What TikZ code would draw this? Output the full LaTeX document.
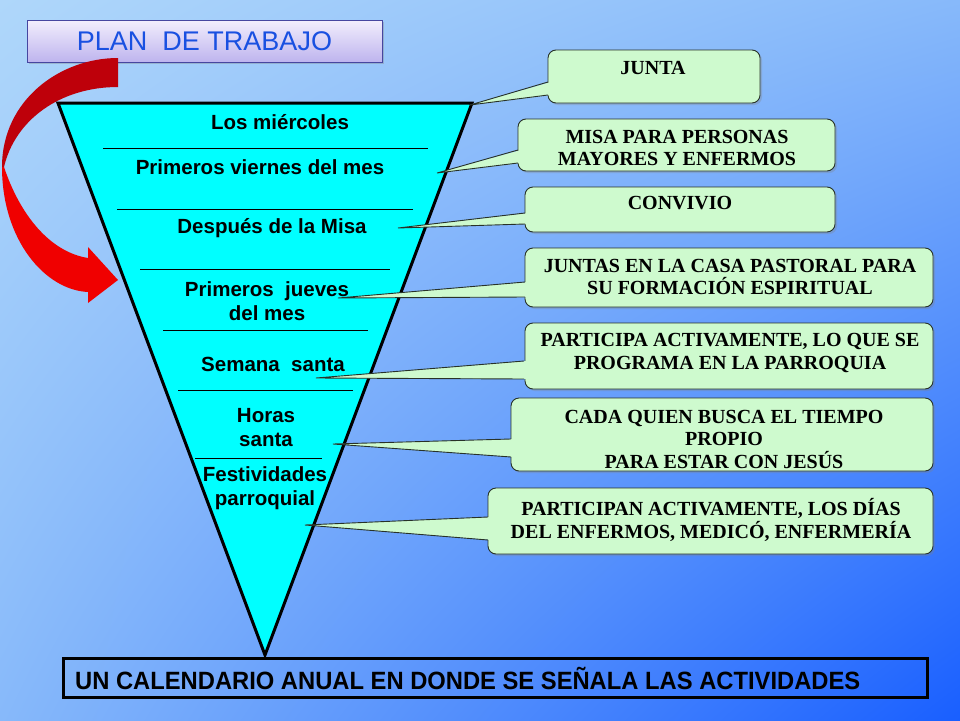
\documentclass[tikz,border=0pt]{standalone}
\usepackage{fontspec}
\setmainfont{Liberation Sans}
\newfontfamily\calloutfont{Liberation Serif}
\usetikzlibrary{shadows,calc,shadings}
\definecolor{bgUL}{RGB}{175,215,250}
\definecolor{bgUR}{RGB}{135,185,250}
\definecolor{bgLL}{RGB}{135,185,250}
\definecolor{bgLR}{RGB}{25,95,255}
\definecolor{titletop}{RGB}{242,238,253}
\definecolor{titlebot}{RGB}{190,180,238}
\definecolor{titleborder}{RGB}{70,70,160}
\definecolor{titletext}{RGB}{25,80,225}
\definecolor{trifill}{RGB}{0,255,255}
\definecolor{callfill}{RGB}{206,250,206}
\definecolor{callborder}{RGB}{40,50,40}
\definecolor{arrowdark}{RGB}{190,0,10}
\definecolor{arrowbright}{RGB}{240,0,0}
\begin{document}
\begin{tikzpicture}[x=1pt,y=-1pt,
  titlebox/.style={draw=titleborder, line width=0.8pt, top color=titletop, bottom color=titlebot,
    minimum width=355pt, minimum height=42pt, inner sep=0pt,
    drop shadow={shadow xshift=2pt, shadow yshift=-2pt, opacity=0.35}},
  tri/.style={draw=black, line width=3pt, fill=trifill, line join=miter},
  sepline/.style={draw=black, line width=0.9pt},
  tritext/.style={font=\bfseries\fontsize{20.5}{24}\selectfont, text=black, inner sep=0pt, align=center},
  callbox/.style={draw=callborder, line width=0.9pt, fill=callfill, rounded corners=8pt, inner sep=0pt,
    drop shadow={shadow xshift=2pt, shadow yshift=-2pt, opacity=0.3}},
  callwedge/.style={fill=callfill},
  wedgeline/.style={draw=callborder, line width=0.9pt},
  calltext/.style={font=\calloutfont\bfseries\fontsize{20}{22.5}\selectfont, text=black, inner sep=0pt, align=center},
  calbox/.style={draw=black, line width=3pt, inner sep=0pt, minimum width=864pt, minimum height=39pt},
  caltext/.style={font=\bfseries\fontsize{25}{28}\selectfont, text=black, inner sep=0pt, anchor=west}
]
% background
\shade[upper left=bgUL, upper right=bgUR, lower left=bgLL, lower right=bgLR] (0,0) rectangle (960,720);
\useasboundingbox (0,0) rectangle (960,720);

% title
\node[titlebox] (title) at (204.5,41) {\fontsize{27}{30}\selectfont\color{titletext}PLAN\ \ DE TRABAJO};

% red curved arrow
\fill[arrowdark] (118,58) .. controls (60,58) and (2,100) .. (2,167) -- (4,167)
  .. controls (15,120) and (60,87) .. (118,87) -- cycle;
\fill[arrowbright] (2,167) .. controls (2,240) and (45,290) .. (88,292) -- (88,303) -- (118,280)
  -- (88,247) -- (88,258) .. controls (50,252) and (20,215) .. (4,167) -- cycle;

% triangle
\coordinate (tl) at (58,103);
\coordinate (tr) at (472,103);
\coordinate (tb) at (265,655);
\draw[tri] (tl) -- (tr) -- (tb) -- cycle;

% separators
\coordinate (s1a) at (103,148); \coordinate (s1b) at (428,148);
\coordinate (s2a) at (117,209); \coordinate (s2b) at (413,209);
\coordinate (s3a) at (140,269); \coordinate (s3b) at (390,269);
\coordinate (s4a) at (163,330); \coordinate (s4b) at (368,330);
\coordinate (s5a) at (178,390); \coordinate (s5b) at (353,390);
\coordinate (s6a) at (195,458); \coordinate (s6b) at (322,458);
\draw[sepline] (s1a) -- (s1b);
\draw[sepline] (s2a) -- (s2b);
\draw[sepline] (s3a) -- (s3b);
\draw[sepline] (s4a) -- (s4b);
\draw[sepline] (s5a) -- (s5b);
\draw[sepline] (s6a) -- (s6b);

% triangle texts
\node[tritext] (l1) at (280,122) {Los miércoles};
\node[tritext] (l2) at (260,167) {Primeros viernes del mes};
\node[tritext] (l3) at (272,228) {Después de la Misa};
\node[tritext] (l4) at (267,301) {Primeros\ \ jueves\\del mes};
\node[tritext] (l5) at (273,364) {Semana\ \ santa};
\node[tritext] (l6) at (266,428) {Horas\\santa};
\node[tritext] (l7) at (265,488) {Festividades\\parroquial};

% callout boxes
\node[callbox, minimum width=212pt, minimum height=53pt] (c1) at (654,76.5) {};
\node[callbox, minimum width=317pt, minimum height=52pt] (c2) at (676.5,145) {};
\node[callbox, minimum width=310pt, minimum height=45pt] (c3) at (680,209.5) {};
\node[callbox, minimum width=408pt, minimum height=59pt] (c4) at (729,277.5) {};
\node[callbox, minimum width=408pt, minimum height=66pt] (c5) at (729,356) {};
\node[callbox, minimum width=422pt, minimum height=73pt] (c6) at (722,434.5) {};
\node[callbox, minimum width=445pt, minimum height=66pt] (c7) at (710.5,521) {};

% wedge tips and bases
\coordinate (t1) at (470,105); \coordinate (b1a) at (548,82);  \coordinate (b1b) at (548,95);
\coordinate (t2) at (437,173); \coordinate (b2a) at (518,150); \coordinate (b2b) at (518,163);
\coordinate (t3) at (398,228); \coordinate (b3a) at (525,213); \coordinate (b3b) at (525,224);
\coordinate (t4) at (338,298); \coordinate (b4a) at (525,282); \coordinate (b4b) at (525,297);
\coordinate (t5) at (316,378); \coordinate (b5a) at (524,361); \coordinate (b5b) at (524,379);
\coordinate (t6) at (333,444); \coordinate (b6a) at (511,439); \coordinate (b6b) at (511,457);
\coordinate (t7) at (305,525); \coordinate (b7a) at (488,517); \coordinate (b7b) at (488,540);

\foreach \i in {1,...,7}{
  \fill[callwedge] (t\i) -- ($(b\i a)+(3,0)$) -- ($(b\i b)+(3,0)$) -- cycle;
  \draw[wedgeline] (b\i a) -- (t\i) -- (b\i b);
}

% callout texts
\node[calltext] (ct1) at (653,68) {JUNTA};
\node[calltext] (ct2) at (677,148) {MISA PARA PERSONAS\\MAYORES Y ENFERMOS};
\node[calltext] (ct3) at (680,203.5) {CONVIVIO};
\node[calltext] (ct4) at (730,277) {JUNTAS EN LA CASA PASTORAL PARA\\SU FORMACIÓN ESPIRITUAL};
\node[calltext] (ct5) at (730,353) {PARTICIPA ACTIVAMENTE, LO QUE SE\\PROGRAMA EN LA PARROQUIA};
\node[calltext] (ct6) at (724,439) {CADA QUIEN BUSCA EL TIEMPO\\PROPIO\\PARA ESTAR CON JESÚS};
\node[calltext] (ct7) at (711,520) {PARTICIPAN ACTIVAMENTE, LOS DÍAS\\DEL ENFERMOS, MEDICÓ, ENFERMERÍA};

% bottom box
\node[calbox] (cal) at (495,677.5) {};
\node[caltext] (caltxt) at (75,678) {\scalebox{0.95}[1]{UN CALENDARIO ANUAL EN DONDE SE SEÑALA LAS ACTIVIDADES}};
\end{tikzpicture}
\end{document}
